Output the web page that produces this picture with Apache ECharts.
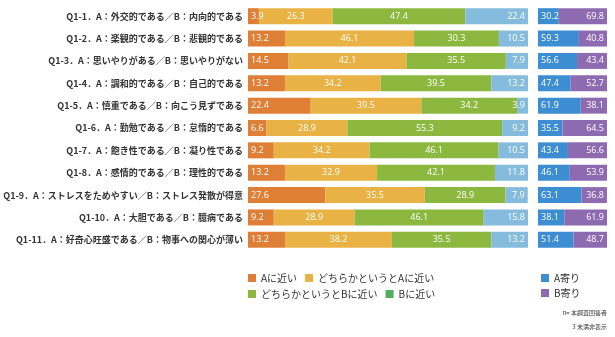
<!DOCTYPE html>
<html><head><meta charset="utf-8">
<script src="https://cdn.jsdelivr.net/npm/echarts@6/dist/echarts.min.js"></script>
<style>html,body{margin:0;padding:0;background:#fff}#c{width:615px;height:337px}</style>
</head><body><div id="c"></div>
<script>
const categories = [
 'Q1-1．A：外交的である／B：内向的である',
 'Q1-2．A：楽観的である／B：悲観的である',
 'Q1-3．A：思いやりがある／B：思いやりがない',
 'Q1-4．A：調和的である／B：自己的である',
 'Q1-5．A：慎重である／B：向こう見ずである',
 'Q1-6．A：勤勉である／B：怠惰的である',
 'Q1-7．A：飽き性である／B：凝り性である',
 'Q1-8．A：感情的である／B：理性的である',
 'Q1-9．A：ストレスをためやすい／B：ストレス発散が得意',
 'Q1-10．A：大胆である／B：臆病である',
 'Q1-11．A：好奇心旺盛である／B：物事への関心が薄い'
];
const aNear = [3.9,13.2,14.5,13.2,22.4,6.6,9.2,13.2,27.6,9.2,13.2];
const aSome = [26.3,46.1,42.1,34.2,39.5,28.9,34.2,32.9,35.5,28.9,38.2];
const bSome = [47.4,30.3,35.5,39.5,34.2,55.3,46.1,42.1,28.9,46.1,35.5];
const bNear = [22.4,10.5,7.9,13.2,3.9,9.2,10.5,11.8,7.9,15.8,13.2];
const aLean = [30.2,59.3,56.6,47.4,61.9,35.5,43.4,46.1,63.1,38.1,51.4];
const bLean = [69.8,40.8,43.4,52.7,38.1,64.5,56.6,53.9,36.8,61.9,48.7];

const C = {orange:'#df7f35', yellow:'#e8b244', green:'#8cb83f', lblue:'#85bbdc', blue:'#3d8dd2', purple:'#8e6bb1', dgreen:'#52ad5c'};
const lblFont = {color:'#fff', fontSize:9, fontFamily:'Open Sans'};
function seg(name, data, color, pos, axis){
  return {name, type:'bar', stack: axis===0?'main':'lean', xAxisIndex:axis, yAxisIndex:axis,
    data, barWidth:16, itemStyle:{color},
    label:Object.assign({show:true, position:pos, distance:3, formatter:p=>p.value.toFixed(1)}, lblFont)};
}
const chart = echarts.init(document.getElementById('c'));
const legText = {fontSize:10, color:'#333', fontFamily:'Noto Sans CJK JP'};
chart.setOption({
  animation:false,
  grid:[{left:248, width:280, top:5, height:246},{left:538, width:69, top:5, height:246}],
  xAxis:[{type:'value', min:0, max:100, show:false, gridIndex:0},{type:'value', min:0, max:100, show:false, gridIndex:1}],
  yAxis:[
    {type:'category', data:categories, inverse:true, gridIndex:0, axisLine:{show:false}, axisTick:{show:false},
     axisLabel:{fontSize:9, color:'#333', fontWeight:'bold', fontFamily:'Noto Sans CJK JP', margin:5}},
    {type:'category', data:categories, inverse:true, gridIndex:1, show:false}
  ],
  legend:[
    {left:243, top:268, itemWidth:8, itemHeight:8, itemGap:8, icon:'rect', textStyle:legText,
     data:['Aに近い','どちらかというとAに近い']},
    {left:243, top:284, itemWidth:8, itemHeight:8, itemGap:8, icon:'rect', textStyle:legText,
     data:['どちらかというとBに近い',{name:'Bに近い', itemStyle:{color:C.dgreen}}]},
    {left:536, top:268, orient:'vertical', itemWidth:8, itemHeight:8, itemGap:5, icon:'rect', textStyle:legText,
     data:['A寄り','B寄り']}
  ],
  graphic:[
    {type:'text', right:8, top:310, style:{text:'n= 本調査回答者', fontSize:6, fill:'#333', fontFamily:'Noto Sans CJK JP'}},
    {type:'text', right:8, top:324, style:{text:'3 未満非表示', fontSize:6, fill:'#333', fontFamily:'Noto Sans CJK JP'}}
  ],
  series:[
    seg('Aに近い', aNear, C.orange, 'insideLeft', 0),
    seg('どちらかというとAに近い', aSome, C.yellow, 'inside', 0),
    seg('どちらかというとBに近い', bSome, C.green, 'inside', 0),
    seg('Bに近い', bNear, C.lblue, 'insideRight', 0),
    seg('A寄り', aLean, C.blue, 'insideLeft', 1),
    seg('B寄り', bLean, C.purple, 'insideRight', 1)
  ]
});
</script></body></html>
